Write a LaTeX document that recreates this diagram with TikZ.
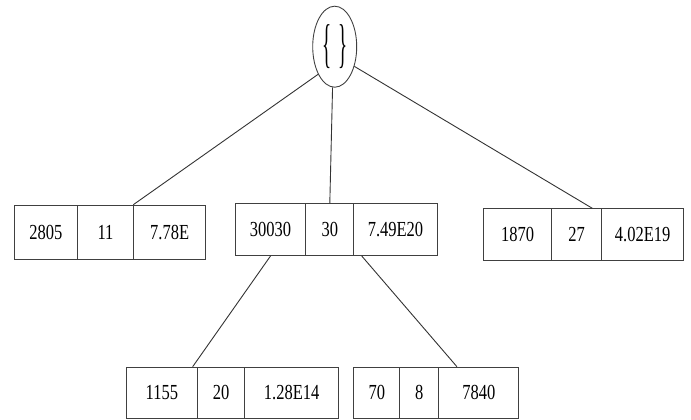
\documentclass[tikz,border=0pt]{standalone}
\usepackage{fontspec}
\usepackage{graphicx}
\setmainfont{Liberation Serif}
\usetikzlibrary{shapes.geometric,calc}
% tall, narrow lettering used throughout the tree
\newcommand\talltxt[1]{\scalebox{1}[1.3]{#1}}
\tikzset{
  cell/.style={draw=black!75, line width=1pt, anchor=north west, inner sep=0pt,
    text=black, font=\fontsize{16.5}{18}\selectfont},
  rootnode/.style={ellipse, draw=black!75, line width=0.9pt, inner sep=0pt,
    minimum width=44pt, minimum height=81pt},
  link/.style={draw=black!80, line width=0.9pt}
}
\begin{document}
\begin{tikzpicture}[x=1pt, y=-1pt]
\useasboundingbox (0,0) rectangle (691,420);

% root of the tree
\node[rootnode] (root) at (334.7,46.7)
  {\scalebox{1.0}[2.8]{\fontsize{19}{19}\selectfont\{\kern7pt\}}};

% first level: three records
\node[cell, minimum width=62.7pt, minimum height=54pt] (b1a) at (14,204.7) {\talltxt{2805}};
\node[cell, minimum width=56.6pt, minimum height=54pt] (b1b) at (76.7,204.7) {\talltxt{11}};
\node[cell, minimum width=71.7pt, minimum height=54pt] (b1c) at (133.3,204.7) {\talltxt{7.78E}};

\node[cell, minimum width=70.6pt, minimum height=51.7pt] (b2a) at (234.7,203.3) {\talltxt{30030}};
\node[cell, minimum width=48pt, minimum height=51.7pt] (b2b) at (305.3,203.3) {\talltxt{30}};
\node[cell, minimum width=83.4pt, minimum height=51.7pt] (b2c) at (353.3,203.3) {\talltxt{7.49E20}};

\node[cell, minimum width=67.7pt, minimum height=51.7pt] (b3a) at (483.3,208.3) {\talltxt{1870}};
\node[cell, minimum width=50pt, minimum height=51.7pt] (b3b) at (551,208.3) {\talltxt{27}};
\node[cell, minimum width=82.3pt, minimum height=51.7pt] (b3c) at (601,208.3) {\talltxt{4.02E19}};

% second level: two records below the middle one
\node[cell, minimum width=70.7pt, minimum height=51.5pt] (b4a) at (126,366.7) {\talltxt{1155}};
\node[cell, minimum width=47.6pt, minimum height=51.5pt] (b4b) at (196.7,366.7) {\talltxt{20}};
\node[cell, minimum width=93.7pt, minimum height=51.5pt] (b4c) at (244.3,366.7) {\talltxt{1.28E14}};

\node[cell, minimum width=46pt, minimum height=51.5pt] (b5a) at (353.3,366.7) {\talltxt{70}};
\node[cell, minimum width=39pt, minimum height=51.5pt] (b5b) at (399.3,366.7) {\talltxt{8}};
\node[cell, minimum width=80pt, minimum height=51.5pt] (b5c) at (438.3,366.7) {\talltxt{7840}};

% links from the root
\draw[link] (root.239) -- (b1c.north west);
\draw[link] (root.267) -- (b2b.north);
\draw[link] (root.315) -- ($(b3b.north west)!0.81!(b3b.north east)$);

% links to the second level
\draw[link] (b2a.south) -- ($(b4a.north west)!0.93!(b4a.north east)$);
\draw[link] ($(b2c.south west)!0.1!(b2c.south east)$) -- ($(b5c.north west)!0.23!(b5c.north east)$);
\end{tikzpicture}
\end{document}
